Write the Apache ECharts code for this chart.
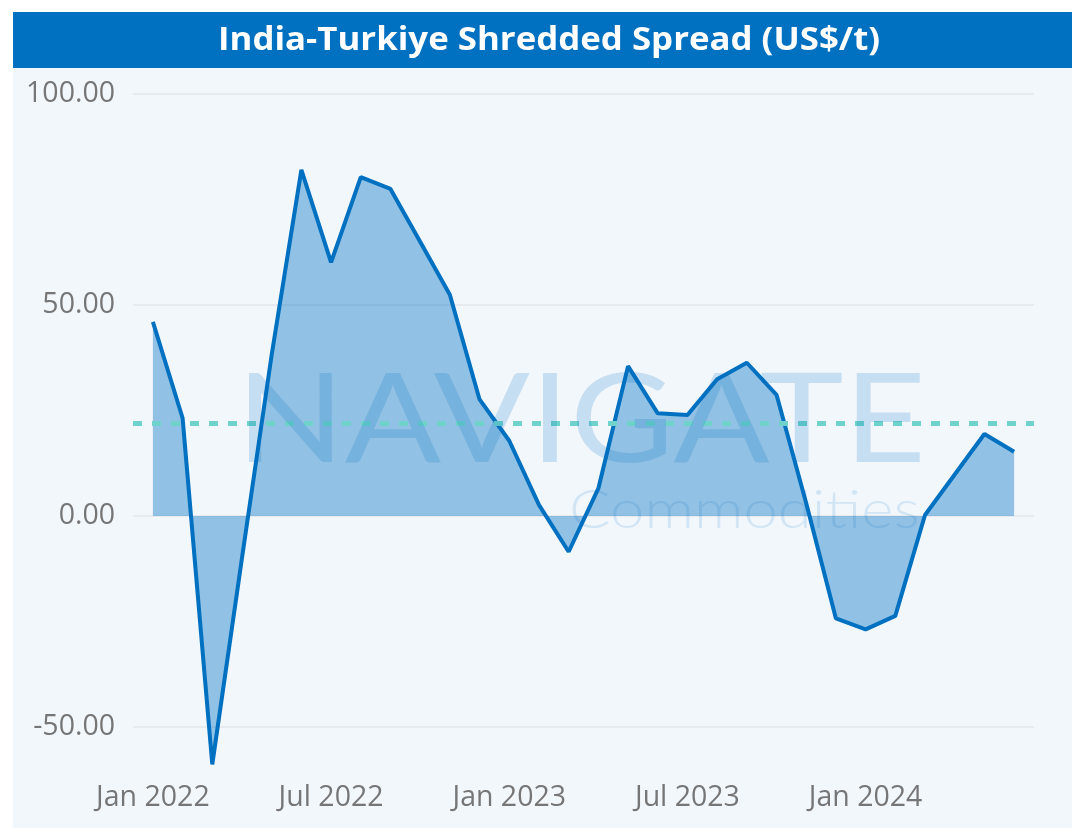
<!DOCTYPE html>
<html>
<head>
<meta charset="utf-8">
<title>India-Turkiye Shredded Spread</title>
<script src="https://cdn.jsdelivr.net/npm/echarts@6/dist/echarts.min.js"></script>
<style>
  html, body { margin: 0; padding: 0; background: #ffffff; }
  #MyLineChart { width: 1072px; height: 828px; }
</style>
</head>
<body>
<div id="MyLineChart"></div>
<script>
// monthly points, Jan 2022 .. Jun 2024
const months = [
  'Jan 2022', 'Feb 2022', 'Mar 2022', 'Apr 2022', 'May 2022', 'Jun 2022',
  'Jul 2022', 'Aug 2022', 'Sep 2022', 'Oct 2022', 'Nov 2022', 'Dec 2022',
  'Jan 2023', 'Feb 2023', 'Mar 2023', 'Apr 2023', 'May 2023', 'Jun 2023',
  'Jul 2023', 'Aug 2023', 'Sep 2023', 'Oct 2023', 'Nov 2023', 'Dec 2023',
  'Jan 2024', 'Feb 2024', 'Mar 2024', 'Apr 2024', 'May 2024', 'Jun 2024'
];
const spread = [
  46.0, 23.2, -58.9, -10.0, 38.2, 82.0,
  60.1, 80.3, 77.5, 65.0, 52.4, 27.6,
  17.8, 2.6, -8.5, 6.5, 35.5, 24.3,
  23.9, 32.4, 36.3, 28.7, 3.0, -24.3,
  -26.9, -23.7, 0.2, 9.8, 19.4, 15.2
];
const xTickIndex = [0, 6, 12, 18, 24];
const yTicks = [100, 50, 0, -50];

const titleText = 'India-Turkiye Shredded Spread (US$/t)';

const chartDom = document.getElementById('MyLineChart');
const myChart = echarts.init(chartDom, null, { renderer: 'canvas' });

// [monthIndex, value] pairs for the value x-axis
const seriesData = spread.map((v, i) => [i, v]);

const option = {
  animation: false,
  backgroundColor: '#ffffff',
  textStyle: { fontFamily: "'Open Sans', sans-serif" },
  graphic: [
    // light panel behind the plot
    { type: 'rect', left: 13, top: 68, z: -20, shape: { width: 1059, height: 760 }, style: { fill: '#F2F7FC' } },
    // title bar
    { type: 'rect', left: 13, top: 12, z: -20, shape: { width: 1059, height: 56 }, style: { fill: '#0070C0' } },
    {
      type: 'text', x: 218, y: 41, z: 10, scaleX: 1.055,
      style: {
        text: titleText, fill: '#ffffff', font: "bold 33px 'Open Sans', sans-serif",
        textAlign: 'left', textVerticalAlign: 'middle'
      }
    },
    // watermark, drawn over the area
    {
      type: 'text', x: 236, y: 484, z: 100, scaleX: 1.14, silent: true,
      style: {
        text: 'NAVIGATE', fill: 'rgba(0,112,192,0.18)', font: "125px Lato, sans-serif",
        textAlign: 'left', textVerticalAlign: 'bottom'
      }
    },
    {
      type: 'text', x: 569, y: 538, z: 100, scaleX: 1.14, silent: true,
      style: {
        text: 'Commodities', fill: 'rgba(0,112,192,0.13)', font: "300 54px Lato, sans-serif",
        textAlign: 'left', textVerticalAlign: 'bottom'
      }
    }
  ],
  grid: {
    left: 133,
    right: 38,
    top: 94,
    bottom: 59,
    containLabel: false
  },
  xAxis: {
    type: 'value',
    min: -0.67,
    max: 29.67,
    axisLine: { show: false },
    axisTick: { show: false, customValues: xTickIndex },
    splitLine: { show: false },
    axisLabel: {
      customValues: xTickIndex,
      formatter: (v) => months[Math.round(v)] || '',
      color: '#767676',
      fontSize: 28.5,
      margin: 14
    }
  },
  yAxis: {
    type: 'value',
    min: -60,
    max: 100,
    axisLine: { show: false },
    axisTick: { show: false, customValues: yTicks },
    axisLabel: {
      customValues: yTicks,
      formatter: (v) => v.toFixed(2),
      color: '#767676',
      fontSize: 28.5,
      margin: 18
    },
    splitLine: { show: true, lineStyle: { color: '#E3E6EA', width: 1.5 } }
  },
  series: [
    {
      name: 'Spread',
      type: 'line',
      data: seriesData,
      symbol: 'none',
      z: 3,
      lineStyle: { color: '#0070C0', width: 4 },
      areaStyle: { color: 'rgba(0,112,192,0.4)', opacity: 1 },
      markLine: {
        silent: true,
        symbol: ['none', 'none'],
        label: { show: false },
        lineStyle: { color: '#6FD3CB', width: 5, type: [9, 10], opacity: 1 },
        data: [{ type: 'average' }]
      }
    }
  ]
};

myChart.setOption(option);
</script>
</body>
</html>
